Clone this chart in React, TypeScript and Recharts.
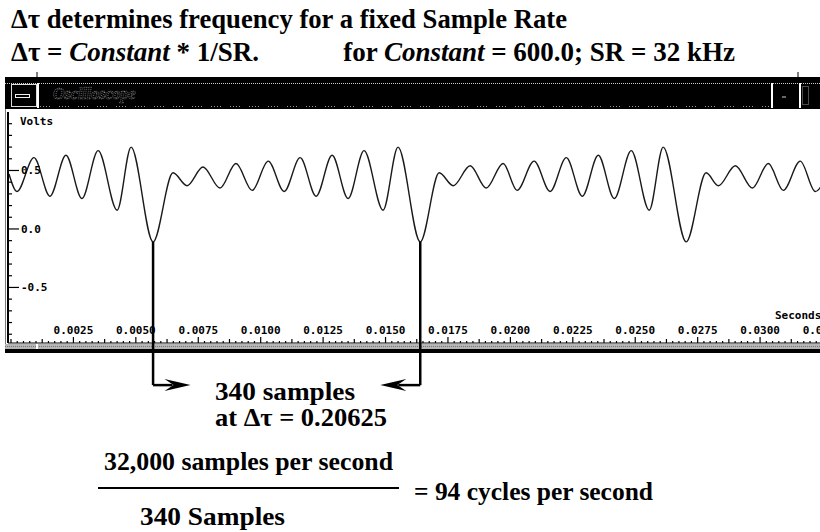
import React from 'react'
import { LineChart, Line, XAxis, YAxis, ReferenceLine } from 'recharts'

// scope trace: peaks and troughs (seconds, volts)
const times = [
  -0.00008, 0.00024, 0.00092, 0.00156, 0.0022, 0.00284, 0.00349, 0.00425, 0.00481, 0.00569,
  0.00649, 0.00705, 0.00769, 0.00837, 0.00901, 0.00966, 0.0103, 0.01094, 0.01158, 0.01222,
  0.01286, 0.0135, 0.01414, 0.0149, 0.0155, 0.01639, 0.01715, 0.01771, 0.01839, 0.01903,
  0.01971, 0.02027, 0.02095, 0.02159, 0.02224, 0.02288, 0.02352, 0.02416, 0.02484, 0.02556,
  0.02612, 0.02704, 0.02784, 0.02833, 0.02901, 0.02969, 0.03033, 0.03093, 0.03161, 0.03221,
  0.03289,
]
const volts = [
  0.47, 0.32, 0.61, 0.28, 0.63, 0.26, 0.67, 0.16, 0.7, -0.11,
  0.48, 0.37, 0.53, 0.35, 0.56, 0.33, 0.58, 0.32, 0.61, 0.28,
  0.63, 0.26, 0.67, 0.16, 0.7, -0.11, 0.48, 0.37, 0.54, 0.35,
  0.56, 0.33, 0.58, 0.32, 0.61, 0.28, 0.63, 0.26, 0.67, 0.16,
  0.7, -0.11, 0.48, 0.37, 0.54, 0.35, 0.56, 0.33, 0.58, 0.32,
  0.61,
]

const xMajorTicks = [0.0025, 0.005, 0.0075, 0.01, 0.0125, 0.015, 0.0175, 0.02, 0.0225, 0.025, 0.0275, 0.03, 0.0325]
const xMajorLabels = ['0.0025', '0.0050', '0.0075', '0.0100', '0.0125', '0.0150', '0.0175', '0.0200', '0.0225', '0.0250', '0.0275', '0.0300', '0.0325']
const yTicks = [-0.9, -0.8, -0.7, -0.6, -0.5, -0.4, -0.3, -0.2, -0.1, 0, 0.1, 0.2, 0.3, 0.4, 0.5, 0.6, 0.7, 0.8, 0.9]
const yMajorTicks = [0.5, 0, -0.5]
const yMajorLabels = ['0.5', '0.0', '-0.5']

// the two troughs that are 340 samples apart
const markedTroughs = [9, 25]

const data = times.map((t, i) => ({ t, v: volts[i] }))

// small scale ticks every quarter of a millisecond
const xTicks = Array.from({ length: 131 }, (_, k) => k / 4000)

const MONO = "'DejaVu Sans Mono', monospace"
const SERIF = "'Liberation Serif', 'Times New Roman', serif"
const BRACKET_Y = -1.335

function XTick(props: any) {
  const { x, y, payload } = props
  const k = Math.round(payload.value * 4000)
  const i = xMajorTicks.findIndex((m) => Math.abs(m - payload.value) < 1e-7)
  const len = i >= 0 ? 6 : k % 5 === 0 ? 4 : 2
  return (
    <g>
      <line x1={x} x2={x} y1={y} y2={y - len} stroke="#000" strokeWidth={1.2} />
      {i >= 0 && (
        <text x={x} y={y - 9} textAnchor="middle" fontFamily={MONO} fontWeight="bold" fontSize={11} fill="#000">
          {xMajorLabels[i]}
        </text>
      )}
    </g>
  )
}

function YTick(props: any) {
  const { x, y, payload } = props
  const i = yMajorTicks.indexOf(payload.value)
  if (i < 0) return <line x1={x} x2={x + 4} y1={y} y2={y} stroke="#000" strokeWidth={1.2} />
  return (
    <g>
      <line x1={x} x2={x + 11} y1={y} y2={y} stroke="#000" strokeWidth={1.2} />
      <text x={x + 13} y={y + 4} fontFamily={MONO} fontWeight="bold" fontSize={11} fill="#000">
        {yMajorLabels[i]}
      </text>
    </g>
  )
}

function Arrow(props: any) {
  const { x1, y1, x2, y2 } = props
  const dir = x2 > x1 ? 1 : -1
  const bx = x2 - dir * 26
  return (
    <g>
      <line x1={x1} y1={y1} x2={bx + dir * 8} y2={y2} stroke="#000" strokeWidth={2.5} />
      <polygon points={`${x2},${y2} ${bx},${y2 - 6} ${bx + dir * 9},${y2} ${bx},${y2 + 6}`} fill="#000" />
    </g>
  )
}

function Decor() {
  const txt = { fontFamily: SERIF, fontWeight: 'bold' as const, fill: '#000' }
  return (
    <svg width={820} height={532} style={{ position: 'absolute', left: 0, top: 0 }}>
      {/* title bar of the scope window */}
      <rect x={5} y={77} width={815} height={32} fill="#000" />
      <line x1={37} x2={37} y1={72} y2={77} stroke="#000" />
      <line x1={798} x2={798} y1={72} y2={77} stroke="#000" />
      <line x1={5} x2={820} y1={83.5} y2={83.5} stroke="#ccc" strokeDasharray="1 1" />
      <line x1={40} x2={770} y1={106.5} y2={106.5} stroke="#999" strokeDasharray="1 2 1 2 1 2 1 9" />
      <rect x={11.5} y={84.5} width={25} height={22} fill="none" stroke="#ddd" />
      <rect x={15.5} y={94.5} width={14} height={3} fill="none" stroke="#eee" />
      <line x1={38} x2={38} y1={83} y2={108} stroke="#fff" strokeWidth={2} />
      <text x={53} y={99} fontFamily={SERIF} fontStyle="italic" fontWeight="bold" fontSize={16} fill="none" stroke="#999" strokeWidth={0.7} strokeDasharray="1 1">
        Oscilloscope
      </text>
      <line x1={772} x2={772} y1={83} y2={108} stroke="#fff" strokeWidth={2} />
      <line x1={782} x2={786} y1={97} y2={97} stroke="#ccc" />
      <line x1={800} x2={800} y1={83} y2={108} stroke="#fff" strokeWidth={2} />
      <rect x={802.5} y={86.5} width={6} height={18} fill="none" stroke="#999" strokeDasharray="1 1" />
      {/* window frame and scroll strip */}
      <line x1={5.5} x2={5.5} y1={109} y2={353} stroke="#777" />
      <rect x={5} y={344} width={815} height={5} fill="#b5b5b5" />
      <line x1={5} x2={820} y1={346.5} y2={346.5} stroke="#777" strokeDasharray="1 1" />
      <rect x={5} y={349} width={815} height={4} fill="#000" />
      <rect x={36} y={344} width={2} height={5} fill="#fff" />
      <text x={20} y={125} fontFamily={MONO} fontWeight="bold" fontSize={11} fill="#000">Volts</text>
      <text x={775} y={319} fontFamily={MONO} fontWeight="bold" fontSize={11} fill="#000">Seconds</text>

      {/* headline */}
      <text x={11} y={28} fontSize={27} textLength={556} lengthAdjust="spacingAndGlyphs" {...txt}>
        Δτ determines frequency for a fixed Sample Rate
      </text>
      <text x={11} y={61} fontSize={27} {...txt}>
        Δτ = <tspan fontStyle="italic">Constant</tspan> * 1/SR.
      </text>
      <text x={735} y={61} fontSize={27} textAnchor="end" {...txt}>
        for <tspan fontStyle="italic">Constant</tspan> = 600.0; SR = 32 kHz
      </text>

      {/* working below the trace */}
      <text x={215} y={400} fontSize={25} textLength={140} lengthAdjust="spacingAndGlyphs" {...txt}>340 samples</text>
      <text x={215} y={426} fontSize={25} textLength={172} lengthAdjust="spacingAndGlyphs" {...txt}>at Δτ = 0.20625</text>
      <text x={104} y={470} fontSize={25} textLength={289} lengthAdjust="spacingAndGlyphs" {...txt}>32,000 samples per second</text>
      <line x1={98} x2={399} y1={488} y2={488} stroke="#000" strokeWidth={2} />
      <text x={414} y={500} fontSize={25} textLength={239} lengthAdjust="spacingAndGlyphs" {...txt}>= 94 cycles per second</text>
      <text x={140} y={525} fontSize={25} textLength={145} lengthAdjust="spacingAndGlyphs" {...txt}>340 Samples</text>
    </svg>
  )
}

export default function App() {
  const [a, b] = markedTroughs
  return (
    <div style={{ position: 'fixed', left: 0, top: 0, width: 820, height: 532, overflow: 'hidden', background: '#fff' }}>
      <Decor />
      <div style={{ position: 'absolute', left: 0, top: 0 }}>
        <LineChart width={825} height={532} data={data} margin={{ top: 112, right: 0, bottom: 188, left: 7 }}>
          <XAxis
            dataKey="t"
            type="number"
            domain={[-0.00012, 0.0326]}
            allowDataOverflow
            ticks={xTicks}
            interval={0}
            height={1}
            tickSize={0}
            tickMargin={0}
            tickLine={false}
            axisLine={{ stroke: '#000', strokeWidth: 1.2 }}
            tick={<XTick />}
          />
          <YAxis
            type="number"
            domain={[-0.975, 1.0]}
            allowDataOverflow
            ticks={yTicks}
            interval={0}
            width={1}
            tickSize={0}
            tickMargin={0}
            tickLine={false}
            axisLine={{ stroke: '#000', strokeWidth: 2 }}
            tick={<YTick />}
          />
          <Line
            type="monotone"
            dataKey="v"
            stroke="#1a1a1a"
            strokeWidth={1.4}
            dot={false}
            activeDot={false}
            isAnimationActive={false}
          />
          <ReferenceLine
            segment={[{ x: times[a], y: volts[a] }, { x: times[a], y: BRACKET_Y }]}
            stroke="#000"
            strokeWidth={2.5}
            ifOverflow="visible"
          />
          <ReferenceLine
            segment={[{ x: times[b], y: volts[b] }, { x: times[b], y: BRACKET_Y }]}
            stroke="#000"
            strokeWidth={2.5}
            ifOverflow="visible"
          />
          <ReferenceLine
            segment={[{ x: times[a], y: BRACKET_Y }, { x: times[a] + 0.0015, y: BRACKET_Y }]}
            ifOverflow="visible"
            shape={<Arrow />}
          />
          <ReferenceLine
            segment={[{ x: times[b], y: BRACKET_Y }, { x: times[b] - 0.0016, y: BRACKET_Y }]}
            ifOverflow="visible"
            shape={<Arrow />}
          />
        </LineChart>
      </div>
    </div>
  )
}
